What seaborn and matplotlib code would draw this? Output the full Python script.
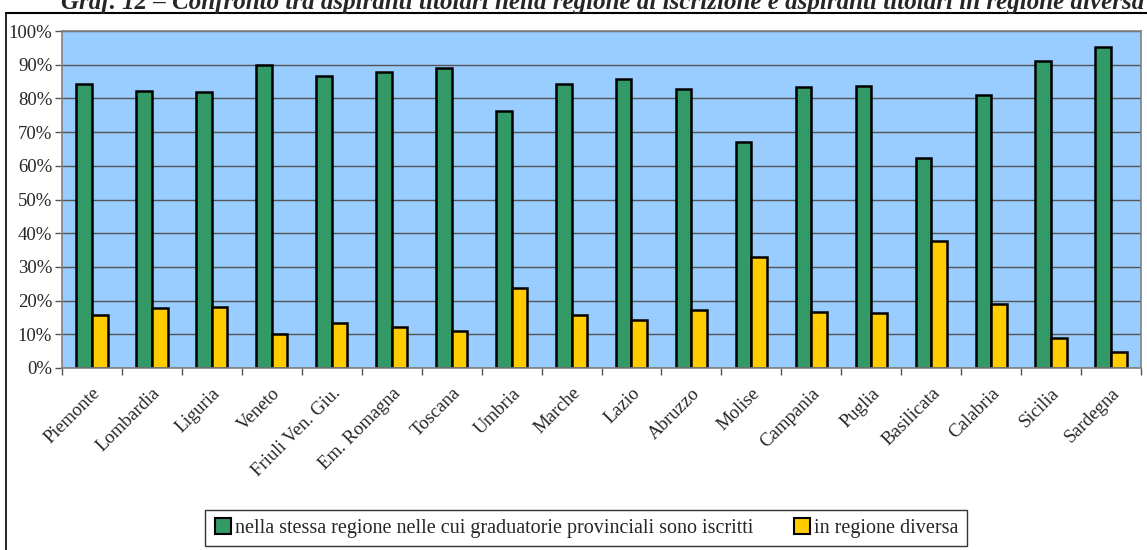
import matplotlib
matplotlib.use("Agg")
import matplotlib.pyplot as plt
import seaborn as sns
import pandas as pd
import numpy as np
from matplotlib.ticker import FixedLocator, PercentFormatter
from matplotlib.lines import Line2D

# ========== 数据 ==========
regioni = ["Piemonte", "Lombardia", "Liguria", "Veneto", "Friuli Ven. Giu.",
           "Em. Romagna", "Toscana", "Umbria", "Marche", "Lazio", "Abruzzo",
           "Molise", "Campania", "Puglia", "Basilicata", "Calabria",
           "Sicilia", "Sardegna"]
stessa_regione = [84.3, 82.3, 81.9, 90.0, 86.7, 87.7, 89.1, 76.2, 84.3, 85.7,
                  82.9, 67.2, 83.3, 83.8, 62.3, 81.0, 91.0, 95.3]
regione_diversa = [15.7, 17.7, 18.1, 10.0, 13.3, 12.3, 10.9, 23.8, 15.7, 14.3,
                   17.1, 32.8, 16.7, 16.2, 37.7, 19.0, 9.0, 4.7]
serie = ["nella stessa regione nelle cui graduatorie provinciali sono iscritti",
         "in regione diversa"]
colori = ["#339966", "#FFCC00"]
titolo = ("Graf. 12 – Confronto tra aspiranti titolari nella regione di "
          "iscrizione e aspiranti titolari in regione diversa")

df = pd.DataFrame({
    "regione": regioni * 2,
    "valore": stessa_regione + regione_diversa,
    "serie": [serie[0]] * len(regioni) + [serie[1]] * len(regioni),
})

sns.set_style("white")
plt.rcParams["font.family"] = ["Liberation Serif", "DejaVu Serif"]

fig = plt.figure(figsize=(11.47, 5.5), dpi=100)
ax = fig.add_axes([62 / 1147, 1 - 368 / 550, (1141 - 62) / 1147, (368 - 31) / 550])

sns.barplot(data=df, x="regione", y="valore", hue="serie", palette=colori,
            saturation=1, width=0.52, edgecolor="black", linewidth=1.8,
            ax=ax, legend=False)

ax.set_facecolor("#99CCFF")
ax.set_ylim(0, 100)
ax.set_xlim(-0.5, len(regioni) - 0.5)
ax.yaxis.set_major_locator(FixedLocator(np.arange(0, 101, 10)))
ax.yaxis.set_major_formatter(PercentFormatter(decimals=0))
ax.grid(axis="y", color="#555555", linewidth=1.0)
ax.set_axisbelow(True)
ax.set_xlabel("")
ax.set_ylabel("")

for s in ax.spines.values():
    s.set_color("#808080")
    s.set_linewidth(1.2)

ax.tick_params(axis="y", which="major", direction="out", length=5, width=1,
               color="#555555", labelsize=13.5, pad=2, left=True)
ax.set_xticks(range(len(regioni)))
ax.set_xticklabels(regioni, rotation=45, ha="right", rotation_mode="anchor",
                   fontsize=13.5)
ax.tick_params(axis="x", which="major", length=0, pad=12)
ax.xaxis.set_minor_locator(FixedLocator(np.arange(-0.5, len(regioni), 1)))
ax.tick_params(axis="x", which="minor", direction="out", length=5, width=1,
               color="#555555", bottom=True)

# legenda
handles = [Line2D([], [], marker="s", linestyle="none", markersize=11,
                  markerfacecolor=c, markeredgecolor="black", markeredgewidth=1.5)
           for c in colori]
leg = fig.legend(handles, serie, loc="center", bbox_to_anchor=(0.511, 0.04),
                 ncol=2, fontsize=14.5, frameon=True, fancybox=False,
                 edgecolor="black", handletextpad=0.15, columnspacing=2.0,
                 borderpad=0.4, handlelength=0.9)
leg.get_frame().set_linewidth(1.0)

# riquadro esterno
fig.add_artist(Line2D([6 / 1147, 6 / 1147], [0, 1 - 13 / 550], color="black",
                      linewidth=1.2, transform=fig.transFigure))
fig.add_artist(Line2D([6 / 1147, 1], [1 - 13 / 550, 1 - 13 / 550], color="black",
                      linewidth=1.5, transform=fig.transFigure))

fig.text(0.525, 1 - 9 / 550, titolo, ha="center", va="baseline", fontsize=18,
         fontweight="bold", fontstyle="italic")

fig.savefig("out.png", dpi=100)
